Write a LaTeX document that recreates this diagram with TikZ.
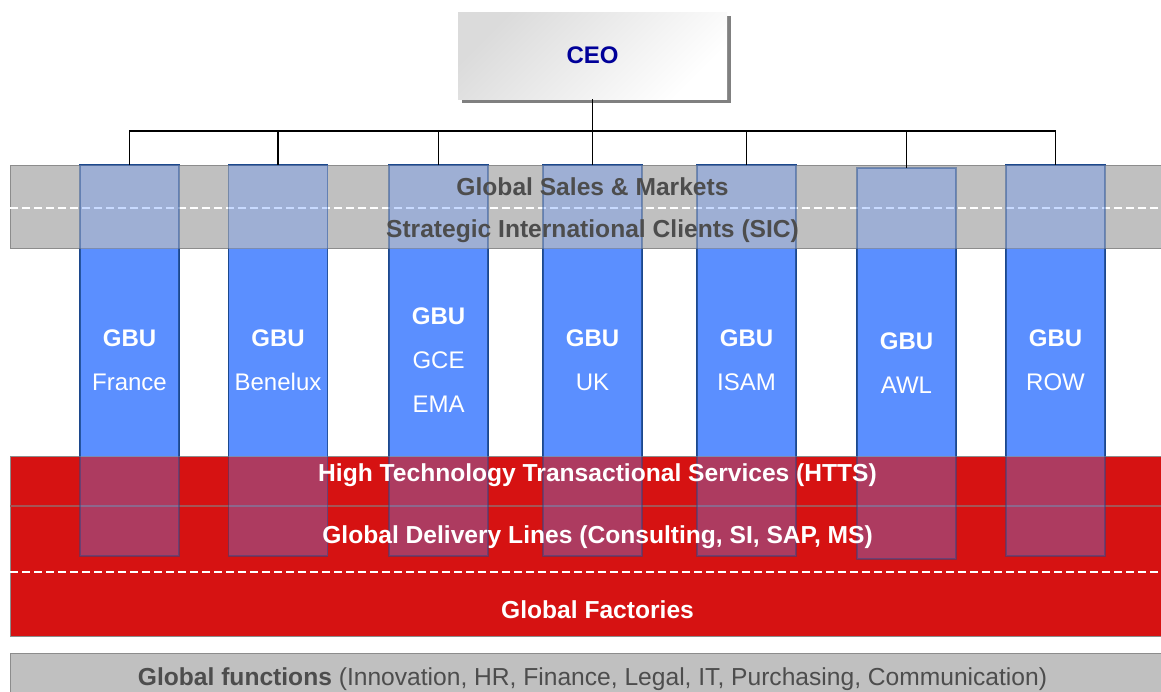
\documentclass[tikz,border=0pt]{standalone}
\usepackage{fontspec}
\setmainfont{Liberation Sans}
\usetikzlibrary{shadows}

\definecolor{ceoblue}{RGB}{0,0,153}
\definecolor{bandgray}{RGB}{192,192,192}
\definecolor{bandtext}{RGB}{77,77,77}
\definecolor{gbublue}{RGB}{91,143,255}
\definecolor{gbuedge}{RGB}{28,72,140}
\definecolor{factred}{RGB}{214,18,18}
\definecolor{redline}{RGB}{165,85,85}
\definecolor{edgegray}{RGB}{140,140,140}

\begin{document}
\begin{tikzpicture}[x=1pt, y=-1pt,
    ceobox/.style={minimum width=269pt, minimum height=87pt, top color=black!14, bottom color=white, shading angle=45,
        drop shadow={shadow xshift=3.5pt, shadow yshift=-3.5pt, fill=black!50, opacity=1},
        text=ceoblue, font=\fontsize{24}{28}\selectfont\bfseries},
    band/.style={anchor=north west, minimum width=1160pt, inner sep=0pt, outer sep=0pt, draw=edgegray, line width=1pt},
    bandlabel/.style={anchor=base, inner sep=0pt, font=\fontsize{24.6}{28}\selectfont\bfseries},
    sepline/.style={white, dash pattern=on 8pt off 4pt, line width=1.5pt},
    gbufill/.style={anchor=north, fill=gbublue, draw=gbuedge, line width=1.2pt, minimum width=99pt, minimum height=391pt,
        inner sep=0pt, outer sep=0pt},
    gbu/.style={draw=gbuedge, draw opacity=0.45, line width=1.2pt, fill=gbublue, fill opacity=0.33, text opacity=1,
        text=white, align=center, minimum width=99pt, minimum height=391pt, inner sep=0pt, outer sep=0pt,
        font=\fontsize{24}{44}\selectfont},
    orgline/.style={line width=1.3pt}
]
    \useasboundingbox (0,0) rectangle (1161,691);

    % CEO box
    \node[ceobox] (ceo) at (592.5,55.5) {CEO};

    % GBU columns, solid part first
    \foreach \x/\top/\name in {129.5/165/france, 278/165/benelux, 438.5/165/gce, 592.5/165/uk,
        746.5/165/isam, 906.5/168/awl, 1055.5/165/row}
        \node[gbufill] (\name-fill) at (\x,\top) {};

    % Sales bands
    \node[band, fill=bandgray, minimum height=83pt] (sales) at (10,165) {};
    \draw[sepline] (10,208) -- (1170,208);

    % Delivery bands
    \node[band, fill=factred, minimum height=180pt] (delivery) at (10,456) {};
    \draw[redline, line width=2pt] (10,505.5) -- (1170,505.5);
    \draw[sepline] (10,572) -- (1170,572);

    % Global functions bar
    \node[band, fill=bandgray, minimum height=50pt] (functions) at (10,653) {};

    % GBU columns, see-through over the bands
    \foreach \name/\txt in {france/{\textbf{GBU}\\France}, benelux/{\textbf{GBU}\\Benelux},
        gce/{\textbf{GBU}\\GCE\\EMA}, uk/{\textbf{GBU}\\UK}, isam/{\textbf{GBU}\\ISAM},
        awl/{\textbf{GBU}\\AWL}, row/{\textbf{GBU}\\ROW}}
        \node[gbu] (\name) at (\name-fill) {\txt};

    % Band labels
    \node[bandlabel, text=bandtext] (saleslbl) at (592.5,195.6) {Global Sales \& Markets};
    \node[bandlabel, text=bandtext] (siclbl) at (592.5,237.6) {Strategic International Clients (SIC)};
    \node[bandlabel, text=white] (httslbl) at (597.5,481.6) {High Technology Transactional Services (HTTS)};
    \node[bandlabel, text=white] (gdllbl) at (597.5,543.6) {Global Delivery Lines (Consulting, SI, SAP, MS)};
    \node[bandlabel, text=white] (factlbl) at (597.5,618.6) {Global Factories};
    \node[bandlabel, text=bandtext, font=\fontsize{24.6}{28}\selectfont] (funclbl) at (592.5,685.6)
        {\textbf{Global functions} (Innovation, HR, Finance, Legal, IT, Purchasing, Communication)};

    % Reporting lines
    \coordinate (bus) at (592.5,131);
    \draw[orgline] (ceo.south) -- (bus);
    \foreach \name in {france,benelux,gce,uk,isam,awl,row}
        \draw[orgline] (bus) -| (\name.north);
\end{tikzpicture}
\end{document}
